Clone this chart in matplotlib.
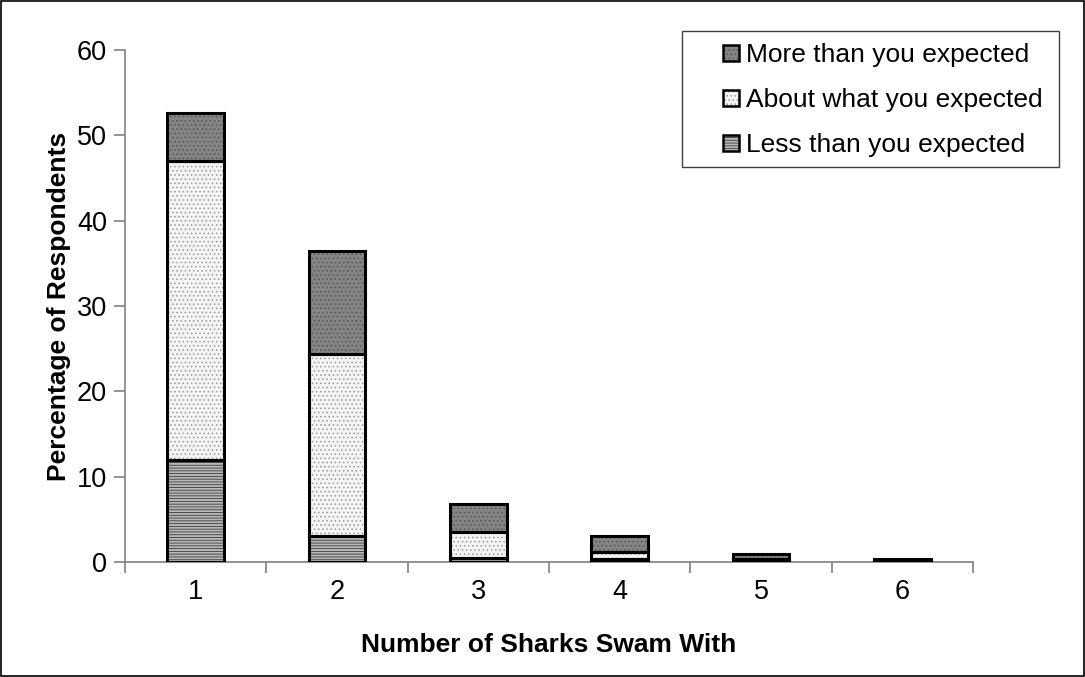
import matplotlib
matplotlib.use("Agg")
import matplotlib.pyplot as plt
import matplotlib.patches as mpatches
import numpy as np

plt.rcParams['font.family'] = ['Liberation Sans', 'DejaVu Sans']
plt.rcParams['hatch.linewidth'] = 0.6

# Percentage of respondents by number of sharks swam with
categories = ['1', '2', '3', '4', '5', '6']
less_than = [11.9, 3.1, 0.5, 0.3, 0.2, 0.1]
about_what = [35.1, 21.3, 3.0, 0.9, 0.2, 0.1]
more_than = [5.6, 12.1, 3.3, 1.9, 0.5, 0.2]

series = [
    ("Less than you expected", less_than, '#b8b8b8', '#3a3a3a', '------'),
    ("About what you expected", about_what, '#f4f4f4', '#9a9a9a', '....'),
    ("More than you expected", more_than, '#848484', '#555555', '....'),
]

W, H = 1085, 677
fig = plt.figure(figsize=(W / 100, H / 100), dpi=100)
ax = fig.add_axes([0.1152, 0.1699, 0.7816, 0.7562])

x = np.arange(len(categories))
width = 0.4
bottom = np.zeros(len(categories))
for label, vals, fc, hc, hatch in series:
    vals = np.array(vals)
    # textured fill
    ax.bar(x, vals, width, bottom=bottom, color=fc, edgecolor=hc,
           hatch=hatch, linewidth=0, zorder=2)
    # black outline
    ax.bar(x, vals, width, bottom=bottom, fill=False, edgecolor='black',
           linewidth=2.2, zorder=3)
    bottom += vals

ax.set_xlim(-0.5, len(categories) - 0.5)
ax.set_ylim(0, 60)
ax.set_yticks(np.arange(0, 61, 10))

# x ticks at category boundaries, labels at the centres
ax.set_xticks(np.arange(-0.5, len(categories), 1.0))
ax.set_xticklabels([])
ax.set_xticks(x, minor=True)
ax.set_xticklabels(categories, minor=True)
ax.tick_params(axis='x', which='minor', length=0, pad=12, labelsize=19.5)
ax.tick_params(axis='x', which='major', length=8, width=1.2, color='#808080')
ax.tick_params(axis='y', length=8, width=1.2, color='#808080', labelsize=19.5, pad=5)

for side in ['top', 'right']:
    ax.spines[side].set_visible(False)
for side in ['left', 'bottom']:
    ax.spines[side].set_color('#808080')
    ax.spines[side].set_linewidth(1.2)

ax.set_xlabel('Number of Sharks Swam With', fontsize=19, fontweight='bold', labelpad=20.5)
ax.set_ylabel('Percentage of Respondents', fontsize=19, fontweight='bold', labelpad=4)

# legend box, top series listed first
box = (682, 31, 1059, 167)  # left, top, right, bottom in pixels
fig.patches.append(mpatches.Rectangle((box[0] / W, 1 - box[3] / H),
                                      (box[2] - box[0]) / W, (box[3] - box[1]) / H,
                                      transform=fig.transFigure, fill=False,
                                      edgecolor='#404040', linewidth=1.0, zorder=5))
row_centres = [53, 98, 143]
sq = 16
for (label, vals, fc, hc, hatch), ry in zip(series[::-1], row_centres):
    rect_xy = (723 / W, 1 - (ry + sq / 2) / H)
    rect_wh = (sq / W, sq / H)
    fig.patches.append(mpatches.Rectangle(rect_xy, *rect_wh, transform=fig.transFigure,
                                          facecolor=fc, edgecolor=hc, hatch=hatch,
                                          linewidth=0, zorder=5))
    fig.patches.append(mpatches.Rectangle(rect_xy, *rect_wh, transform=fig.transFigure,
                                          fill=False, edgecolor='black',
                                          linewidth=1.8, zorder=6))
    fig.text(746 / W, 1 - (ry + 8.7) / H, label, fontsize=19, ha='left', va='baseline')

# figure border
fig.patches.append(mpatches.Rectangle((0.001, 0.001), 0.998, 0.997,
                                      transform=fig.transFigure, fill=False,
                                      edgecolor='black', linewidth=1.2))

fig.savefig('out.png', dpi=100)
